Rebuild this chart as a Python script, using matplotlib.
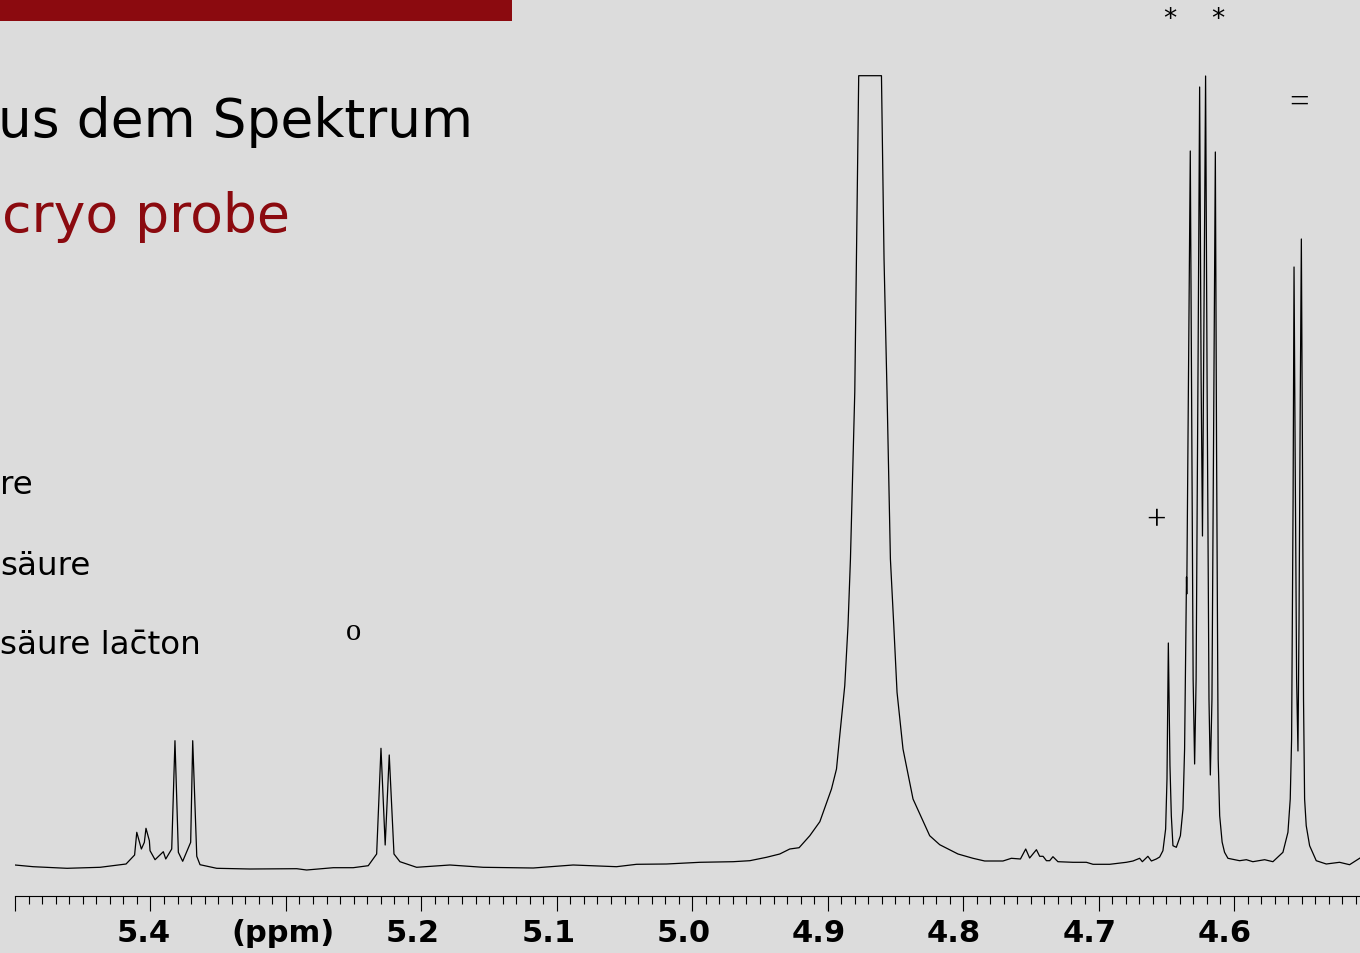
import matplotlib
matplotlib.use("Agg")
import matplotlib.pyplot as plt
from matplotlib.patches import Rectangle
from matplotlib.transforms import ScaledTranslation

# ---------------- data ----------------
ppm = [5.5000, 5.4866, 5.4616, 5.4372, 5.4239, 5.4180, 5.4117, 5.4101, 5.4067, 5.4045,
       5.4033, 5.4008, 5.4003, 5.3966, 5.3905, 5.3887, 5.3843, 5.3819, 5.3794, 5.3762,
       5.3703, 5.3688, 5.3658, 5.3634, 5.3511, 5.3265, 5.2920, 5.2847, 5.2650, 5.2503,
       5.2392, 5.2330, 5.2298, 5.2267, 5.2237, 5.2202, 5.2158, 5.2035, 5.1789, 5.1543,
       5.1174, 5.0879, 5.0559, 5.0411, 5.0190, 4.9944, 4.9698, 4.9575, 4.9452, 4.9354,
       4.9280, 4.9211, 4.9132, 4.9058, 4.8972, 4.8935, 4.8911, 4.8874, 4.8850, 4.8832,
       4.8800, 4.8788, 4.8771, 4.8603, 4.8584, 4.8562, 4.8537, 4.8512, 4.8488, 4.8444,
       4.8370, 4.8247, 4.8173, 4.8038, 4.7927, 4.7841, 4.7706, 4.7644, 4.7577, 4.7538,
       4.7509, 4.7459, 4.7435, 4.7410, 4.7385, 4.7361, 4.7337, 4.7300, 4.7189, 4.7090,
       4.7041, 4.6918, 4.6795, 4.6746, 4.6697, 4.6677, 4.6636, 4.6610, 4.6574, 4.6549,
       4.6525, 4.6505, 4.6495, 4.6485, 4.6473, 4.6463, 4.6451, 4.6426, 4.6396, 4.6377,
       4.6365, 4.6354, 4.6351, 4.6349, 4.6335, 4.6323, 4.6313, 4.6302, 4.6291, 4.6280,
       4.6265, 4.6254, 4.6243, 4.6233, 4.6221, 4.6210, 4.6199, 4.6185, 4.6175, 4.6163,
       4.6149, 4.6138, 4.6129, 4.6117, 4.6106, 4.6088, 4.6070, 4.6045, 4.5959, 4.5909,
       4.5861, 4.5774, 4.5713, 4.5639, 4.5602, 4.5585, 4.5575, 4.5564, 4.5557, 4.5549,
       4.5538, 4.5528, 4.5520, 4.5511, 4.5503, 4.5495, 4.5487, 4.5479, 4.5467, 4.5442,
       4.5393, 4.5319, 4.5221, 4.5147, 4.5058]

intensity = [1.0, -0.7, -2.3, -1.3, 1.0, 2.0, 11.0, 33.7, 17.0, 23.7,
             37.7, 25.3, 15.3, 6.3, 14.3, 7.0, 17.0, 125.3, 13.7, 4.7,
             23.7, 125.3, 9.7, 1.3, -2.3, -3.0, -2.7, -4.0, -1.7, -1.7,
             0.3, 12.0, 117.7, 21.0, 111.0, 12.0, 4.3, -1.3, 1.0, -1.3,
             -2.0, 1.0, -0.7, 1.7, 2.0, 3.7, 4.3, 5.3, 8.7, 12.0,
             17.0, 18.3, 30.3, 44.3, 77.0, 97.0, 130.3, 180.3, 240.3, 307.0,
             474.0, 607.0, 790.3, 790.3, 607.0, 474.0, 307.0, 240.3, 173.7, 117.0,
             67.0, 30.3, 21.3, 12.0, 7.7, 5.0, 5.0, 7.7, 7.0, 17.0,
             8.0, 16.3, 9.7, 9.7, 5.3, 5.3, 9.3, 4.3, 3.7, 3.7,
             1.7, 1.7, 3.7, 5.0, 7.7, 4.3, 9.7, 5.0, 7.0, 9.0,
             15.3, 37.0, 87.0, 223.0, 100.3, 50.3, 20.3, 18.7, 30.3, 57.0,
             117.0, 257.0, 289.0, 272.0, 517.0, 715.0, 467.0, 187.0, 102.0, 187.0,
             517.0, 779.0, 487.0, 330.0, 567.0, 790.0, 487.0, 167.0, 91.0, 167.0,
             467.0, 714.0, 417.0, 107.0, 50.3, 24.0, 13.7, 7.7, 5.3, 6.3,
             4.3, 6.3, 4.3, 13.7, 33.7, 67.0, 127.0, 367.0, 599.0, 417.0,
             187.0, 115.0, 247.0, 467.0, 627.0, 417.0, 167.0, 67.0, 40.3, 20.3,
             5.3, 2.0, 3.7, 1.3, 9.0]

major_ticks = [5.5, 5.4, 5.3, 5.2, 5.1, 5.0, 4.9, 4.8, 4.7, 4.6]
major_labels = ["", "5.4", "(ppm)", "5.2", "5.1", "5.0", "4.9", "4.8", "4.7", "4.6"]
minor_ticks = [round(5.5 - 0.01 * i, 2) for i in range(100)]

title_line = "us dem Spektrum"
subtitle_line = "cryo probe"
side_lines = ["re", "säure", "säure lac\u0304ton"]

peak_marks = ["*", "*", "=", "+", "o"]
peak_mark_ppm = [4.6475, 4.6121, 4.5523, 4.6579, 5.2498]
peak_mark_int = [847, 847, 763, 345, 235]

# ---------------- figure ----------------
BG = "#DCDCDC"
RED = "#8B0A0F"
W, H = 1360, 954
fig = plt.figure(figsize=(W / 100, H / 100), dpi=100, facecolor=BG)

# red bar at top-left
fig.patches.append(Rectangle((0, 1 - 22 / H), 512 / W, 22 / H, transform=fig.transFigure,
                             facecolor=RED, edgecolor="none"))

# slide texts
fig.text(-2 / W, 1 - 137 / H, title_line, fontsize=38.4, color="black",
         family="DejaVu Sans", va="baseline", ha="left")
fig.text(2 / W, 1 - 232 / H, subtitle_line, fontsize=38.6, color=RED,
         family="DejaVu Sans", va="baseline", ha="left")
for txt, yb in zip(side_lines, [494, 575, 654]):
    fig.text(0 / W, 1 - yb / H, txt, fontsize=23.4, color="black",
             family="DejaVu Sans", va="baseline", ha="left")

ax = fig.add_axes([15 / W, 1 - 897 / H, 1 - 15 / W, 897 / H])
ax.set_facecolor("none")
ax.plot(ppm, intensity, color="black", lw=0.9)
ax.set_xlim(5.5, 4.507)
ax.set_ylim(-30, 867)

for s in ["top", "left", "right"]:
    ax.spines[s].set_visible(False)
ax.spines["bottom"].set_linewidth(0.8)
ax.spines["bottom"].set_color("black")
ax.set_yticks([])

ax.set_xticks(major_ticks)
ax.set_xticklabels(major_labels, fontsize=22, fontweight="bold", family="DejaVu Sans")
ax.set_xticks(minor_ticks, minor=True)
ax.tick_params(axis="x", which="major", length=11, width=0.8, direction="out", pad=5,
               colors="black")
ax.tick_params(axis="x", which="minor", length=5.5, width=0.8, direction="out")

offsets = [0, -7, -3, -9, -8, -9, -9, -9, -9, -9]
for lbl, dx in zip(ax.get_xticklabels(), offsets):
    lbl.set_transform(lbl.get_transform() + ScaledTranslation(dx / 100, 0, fig.dpi_scale_trans))

for m, xp, yi in zip(peak_marks, peak_mark_ppm, peak_mark_int):
    fam = "DejaVu Sans" if m == "*" else "Liberation Serif"
    fs = 19 if m == "*" else (22 if m == "o" else 25)
    ax.text(xp, yi, m, fontsize=fs, family=fam, ha="center", va="center",
            color="black", clip_on=False)

fig.savefig("out.png", dpi=100, facecolor=BG)
